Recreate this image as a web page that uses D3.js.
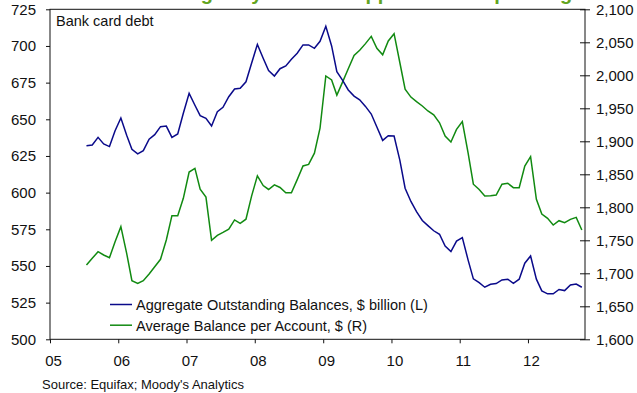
<!DOCTYPE html>
<html><head><meta charset="utf-8">
<script src="https://cdn.jsdelivr.net/npm/d3@7"></script>
<style>
body{margin:0;background:#fff}
svg{display:block}
text{font-family:"Liberation Sans",Arial,sans-serif;fill:#111}
</style></head>
<body><svg id="c" width="637" height="393"></svg>
<script>
// ---- data (monthly, Jul 2005 .. Oct 2012) ----
const firstMonth = [2005, 7];
const aggregateBalances = [
 632,632.5,637.7,633.2,631.4,642.2,650.9,639.1,629.6,626.4,628.6,636.4,
 639.5,645,645.4,637.7,640,654.1,667.7,659.6,652.5,650.7,645.4,655.2,
 658.2,665.4,670.7,671.1,675.6,688.2,701.1,691.6,683.2,679.5,684.5,686.4,
 690.9,695,700.7,700.7,698.4,703.2,713.4,700,682.5,676.5,670,665.8,
 663.3,658.8,653.6,644.8,635.6,638.8,638.6,622,603,594,587,581,
 577.5,574,571.6,563.6,559.8,567,569.3,554,541.2,538.6,535.5,537.5,
 538,540.5,541,538.2,541,551.9,556.8,541,533,531,531,534,
 533.2,537,537.7,535.5];
const averageBalance = [
 1712.6,1722.7,1732.7,1727.7,1723.6,1747.9,1770.6,1730.3,1688.8,1684.8,1688.8,1698.9,
 1710,1721.2,1750.5,1787.3,1787.3,1813.6,1853.5,1859,1827.3,1815.5,1750,1757.5,
 1762,1767,1780.8,1775.8,1782,1817,1847.7,1833,1827,1834,1830,1822,
 1822,1842,1862.6,1865,1882,1920,1999,1993,1970,1990,2010,2030,
 2038,2048,2059,2041,2031,2052,2063,2019,1979,1967,1960,1953.5,
 1946,1940,1928,1908,1899,1918,1930,1882,1835,1827,1817,1817.6,
 1818.6,1835,1836.4,1829.7,1829.7,1862.6,1876.7,1812,1789.8,1783.3,1773.2,1779.7,
 1776.7,1781.8,1784.8,1765.6];
const leftTicks = [500,525,550,575,600,625,650,675,700,725];
const rightTicks = [1600,1650,1700,1750,1800,1850,1900,1950,2000,2050,2100];
const yearTicks = [2005,2006,2007,2008,2009,2010,2011,2012];
const yearLabels = ["05","06","07","08","09","10","11","12"];
const seriesNames = ["Aggregate Outstanding Balances, $ billion (L)","Average Balance per Account, $ (R)"];
const titleWords = [["Card",62],["Borrowing",113],["Only",218],["Modest",268],["Support",340],["for",436],["Spending",481]];

const svg = d3.select("#c");
const L = 50, R = 585, T = 9.3, B = 339.3;
const dates = aggregateBalances.map((_, i) => new Date(firstMonth[0], firstMonth[1] - 1 + i, 15));
const x = d3.scaleTime().domain([new Date(2005,0,1), new Date(2012,10,1)]).range([L, R]);
const yL = d3.scaleLinear().domain([500,725]).range([B, T]);
const yR = d3.scaleLinear().domain([1600,2100]).range([B, T]);

// title (cut off at the top of the picture)
const title = svg.append("text").attr("y", 0).style("font-weight","bold").style("font-size","20px").style("fill","#62a420");
titleWords.forEach(([w, px]) => title.append("tspan").attr("x", px).text(w));

// frame
svg.append("rect").attr("x", L).attr("y", T).attr("width", R - L).attr("height", B - T)
  .attr("fill","none").attr("stroke","#111").attr("stroke-width",1);

const fs = "15px";
// left axis
const gL = svg.append("g").attr("transform",`translate(${L},0)`)
  .call(d3.axisLeft(yL).tickValues(leftTicks).tickSize(4).tickPadding(10).tickFormat(d3.format("d")));
// right axis (ticks cross the line)
const gR = svg.append("g").attr("transform",`translate(${R},0)`)
  .call(d3.axisRight(yR).tickValues(rightTicks).tickSize(5).tickPadding(6).tickFormat(d3.format(",")));
svg.append("g").attr("transform",`translate(${R},0)`)
  .call(d3.axisLeft(yR).tickValues(rightTicks).tickSize(5).tickFormat(""));
// bottom axis
const gB = svg.append("g").attr("transform",`translate(0,${B})`)
  .call(d3.axisBottom(x).tickValues(yearTicks.map(y => new Date(y,0,1))).tickSize(4).tickPadding(12)
    .tickFormat((d, i) => yearLabels[i]));
gB.selectAll("text").attr("dx", 3);
svg.selectAll(".domain").remove();
svg.selectAll(".tick line").attr("stroke","#111");
svg.selectAll(".tick text").style("font-size", fs).style("font-family",'"Liberation Sans",Arial,sans-serif').attr("fill","#111");

// lines
const lineL = d3.line().x((d, i) => x(dates[i])).y(d => yL(d));
const lineR = d3.line().x((d, i) => x(dates[i])).y(d => yR(d));
svg.append("path").datum(averageBalance).attr("d", lineR).attr("fill","none").attr("stroke","#118a11").attr("stroke-width",1.5);
svg.append("path").datum(aggregateBalances).attr("d", lineL).attr("fill","none").attr("stroke","#0a0a8a").attr("stroke-width",1.5);

// in-plot label
svg.append("text").attr("x", 56).attr("y", 26).style("font-size","14.5px").text("Bank card debt");

// legend
const legColors = ["#0a0a8a","#118a11"];
seriesNames.forEach((n, i) => {
  const yy = 304.5 + i * 20.7;
  svg.append("line").attr("x1",110).attr("x2",132).attr("y1",yy).attr("y2",yy)
    .attr("stroke",legColors[i]).attr("stroke-width",1.5);
  svg.append("text").attr("x",136).attr("y",yy + 5.5).style("font-size","14.5px").text(n);
});

// source
svg.append("text").attr("x",42).attr("y",389).style("font-size","13px").text("Source: Equifax; Moody's Analytics");
</script></body></html>
